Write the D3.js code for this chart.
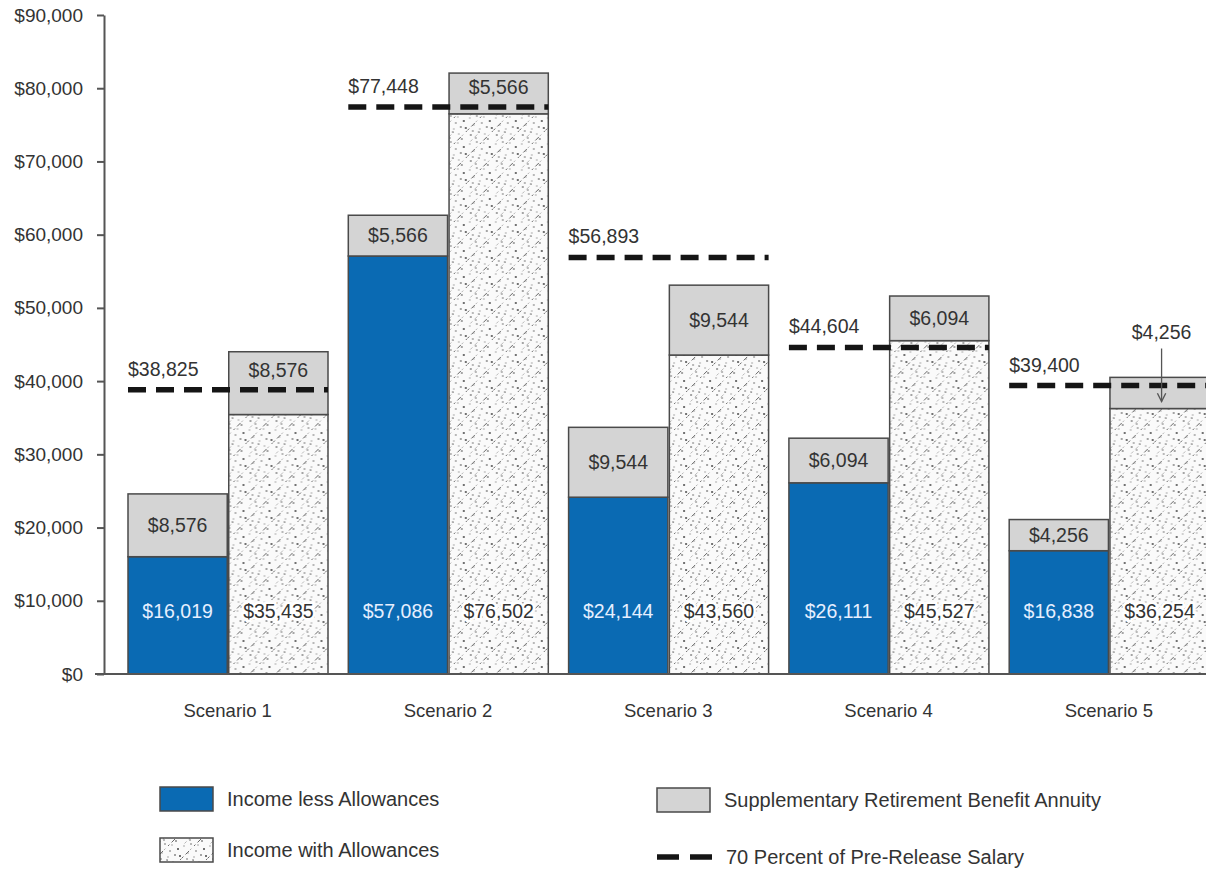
<!DOCTYPE html>
<html>
<head>
<meta charset="utf-8">
<script src="https://cdn.jsdelivr.net/npm/d3@7"></script>
<style>
  body { margin: 0; background: #fff; }
  text { font-family: "Liberation Sans", Arial, sans-serif; fill: #333; }
</style>
</head>
<body>
<div id="chart"></div>
<script>
// chart values
var scenarios = ["Scenario 1", "Scenario 2", "Scenario 3", "Scenario 4", "Scenario 5"];
var incomeLess = [16019, 57086, 24144, 26111, 16838];
var incomeWith = [35435, 76502, 43560, 45527, 36254];
var srba = [8576, 5566, 9544, 6094, 4256];
var seventyPct = [38825, 77448, 56893, 44604, 39400];
var yTicks = [0, 10000, 20000, 30000, 40000, 50000, 60000, 70000, 80000, 90000];

var width = 1206, height = 869;
var blue = "#0a6ab3", grey = "#d4d4d4", edge = "#4a4a4a";

var svg = d3.select("#chart").append("svg")
    .attr("width", width)
    .attr("height", height);

// speckled diagonal texture for "with allowances"
var defs = svg.append("defs");
var pat = defs.append("pattern")
    .attr("id", "speckle")
    .attr("patternUnits", "userSpaceOnUse")
    .attr("width", 26).attr("height", 26);
pat.append("rect").attr("width", 26).attr("height", 26).attr("fill", "#fafafa");
var strokes = [[0, 26, 26, 0], [-13, 13, 13, -13], [13, 39, 39, 13], [-6, 20, 20, -6]];
strokes.forEach(function(s, i) {
    pat.append("line")
        .attr("x1", s[0]).attr("y1", s[1]).attr("x2", s[2]).attr("y2", s[3])
        .attr("stroke", i % 2 ? "#888" : "#666")
        .attr("stroke-width", i === 3 ? 0.6 : 1)
        .attr("stroke-dasharray", i % 2 ? "4 2 1 5 3 3" : "2 3 5 2 1 4");
});
var dots = [[3, 5], [9, 12], [17, 4], [22, 17], [6, 21], [14, 19], [20, 9], [11, 2], [2, 14], [24, 24], [16, 13], [8, 8], [19, 23], [5, 1], [12, 25]];
dots.forEach(function(p, i) {
    pat.append("circle").attr("cx", p[0]).attr("cy", p[1])
        .attr("r", i % 3 === 0 ? 1 : 0.7)
        .attr("fill", i % 2 ? "#444" : "#888");
});

var y = d3.scaleLinear().domain([0, 90000]).range([674, 15]);
var x = d3.scaleBand().domain(scenarios).range([117.5, 1219]);
var sub = d3.scaleBand().domain(["less", "with"]).range([10.5, 210.5]).paddingInner(0.015);

var fmt = function(v) { return "$" + d3.format(",")(v); };

// y axis
var yAxis = svg.append("g")
    .attr("transform", "translate(104,0)")
    .call(d3.axisLeft(y).tickValues(yTicks).tickSize(7).tickSizeOuter(0).tickPadding(14).tickFormat(fmt));
yAxis.selectAll("path, line").attr("stroke", "#555").attr("stroke-width", 2);
yAxis.selectAll("text").style("font-size", "19px").attr("fill", "#333")
    .style("font-family", "'Liberation Sans', Arial, sans-serif");

// category axis
var xAxis = svg.append("g")
    .attr("transform", "translate(0,674)")
    .call(d3.axisBottom(x).tickSize(0).tickPadding(30));
xAxis.select(".domain").remove();
xAxis.selectAll("text").style("font-size", "18.5px").attr("fill", "#333")
    .style("font-family", "'Liberation Sans', Arial, sans-serif");

var rows = scenarios.map(function(s, i) {
    return { name: s, less: incomeLess[i], withA: incomeWith[i], srba: srba[i], line: seventyPct[i] };
});

var groups = svg.selectAll(".grp").data(rows).enter().append("g")
    .attr("class", "grp")
    .attr("transform", function(d) { return "translate(" + x(d.name) + ",0)"; });

// income less allowances
groups.append("rect")
    .attr("x", sub("less")).attr("width", sub.bandwidth())
    .attr("y", function(d) { return y(d.less); })
    .attr("height", function(d) { return y(0) - y(d.less); })
    .attr("fill", blue).attr("stroke", edge).attr("stroke-width", 1.5);
groups.append("rect")
    .attr("x", sub("less")).attr("width", sub.bandwidth())
    .attr("y", function(d) { return y(d.less + d.srba); })
    .attr("height", function(d) { return y(d.less) - y(d.less + d.srba); })
    .attr("fill", grey).attr("stroke", edge).attr("stroke-width", 1.5);

// income with allowances
groups.append("rect")
    .attr("x", sub("with")).attr("width", sub.bandwidth())
    .attr("y", function(d) { return y(d.withA); })
    .attr("height", function(d) { return y(0) - y(d.withA); })
    .attr("fill", "url(#speckle)").attr("stroke", edge).attr("stroke-width", 1.5);
groups.append("rect")
    .attr("x", sub("with")).attr("width", sub.bandwidth())
    .attr("y", function(d) { return y(d.withA + d.srba); })
    .attr("height", function(d) { return y(d.withA) - y(d.withA + d.srba); })
    .attr("fill", grey).attr("stroke", edge).attr("stroke-width", 1.5);

// value labels
var midLess = sub("less") + sub.bandwidth() / 2, midWith = sub("with") + sub.bandwidth() / 2;
groups.append("text")
    .attr("x", midLess).attr("y", y(0) - 63).attr("dy", "0.35em")
    .attr("text-anchor", "middle").style("font-size", "19.5px").style("fill", "#e6efff")
    .text(function(d) { return fmt(d.less); });
groups.append("text")
    .attr("x", midWith).attr("y", y(0) - 63).attr("dy", "0.35em")
    .attr("text-anchor", "middle").style("font-size", "19.5px")
    .attr("stroke", "#fff").attr("stroke-width", 5).attr("paint-order", "stroke")
    .text(function(d) { return fmt(d.withA); });
groups.append("text")
    .attr("x", midLess).attr("y", function(d) { return (y(d.less) + y(d.less + d.srba)) / 2; })
    .attr("dy", "0.35em").attr("text-anchor", "middle").style("font-size", "19.5px")
    .text(function(d) { return fmt(d.srba); });
groups.filter(function(d, i) { return i < 4; }).append("text")
    .attr("x", midWith)
    .attr("y", function(d) {
        var mid = (y(d.withA) + y(d.withA + d.srba)) / 2;
        return Math.abs(mid - y(d.line)) < 16 ? y(d.line) - 20 : mid;
    })
    .attr("dy", "0.35em").attr("text-anchor", "middle").style("font-size", "19.5px")
    .text(function(d) { return fmt(d.srba); });

// 70 percent lines
groups.append("line")
    .attr("x1", sub("less")).attr("x2", sub("with") + sub.bandwidth())
    .attr("y1", function(d) { return y(d.line); }).attr("y2", function(d) { return y(d.line); })
    .attr("stroke", "#151515").attr("stroke-width", 5.5).attr("stroke-dasharray", "18 10");
groups.append("text")
    .attr("x", sub("less")).attr("y", function(d) { return y(d.line) - 14; })
    .style("font-size", "19.5px")
    .text(function(d) { return fmt(d.line); });

// scenario 5 annotation with arrow
defs.append("marker").attr("id", "arrow")
    .attr("viewBox", "0 0 10 10").attr("refX", 9).attr("refY", 5)
    .attr("markerWidth", 8).attr("markerHeight", 8).attr("orient", "auto")
    .append("path").attr("d", "M1,1 L9,5 L1,9").attr("fill", "none").attr("stroke", "#555").attr("stroke-width", 1.3);
var last = rows[4];
var ax = x(last.name) + midWith + 2;
svg.append("line")
    .attr("x1", ax).attr("x2", ax)
    .attr("y1", y(last.line) - 37).attr("y2", y(last.withA) - 7)
    .attr("stroke", "#555").attr("stroke-width", 1.3).attr("marker-end", "url(#arrow)");
svg.append("text")
    .attr("x", ax).attr("y", y(last.line) - 47)
    .attr("text-anchor", "middle").style("font-size", "19.5px")
    .text(fmt(last.srba));

// baseline
svg.append("line")
    .attr("x1", 95).attr("x2", width)
    .attr("y1", y(0)).attr("y2", y(0))
    .attr("stroke", "#555").attr("stroke-width", 2);

// legend
var legend = svg.append("g");
var items = [
    { label: "Income less Allowances", fill: blue, x: 160, y: 787 },
    { label: "Income with Allowances", fill: "url(#speckle)", x: 160, y: 838 },
    { label: "Supplementary Retirement Benefit Annuity", fill: grey, x: 657, y: 788 }
];
items.forEach(function(it) {
    legend.append("rect").attr("x", it.x).attr("y", it.y).attr("width", 53).attr("height", 24)
        .attr("fill", it.fill).attr("stroke", edge).attr("stroke-width", 1.5);
    legend.append("text").attr("x", it.x + 67).attr("y", it.y + 12).attr("dy", "0.35em")
        .style("font-size", "20px").text(it.label);
});
legend.append("line").attr("x1", 657).attr("x2", 712).attr("y1", 857).attr("y2", 857)
    .attr("stroke", "#151515").attr("stroke-width", 5.5).attr("stroke-dasharray", "22 11");
legend.append("text").attr("x", 726).attr("y", 857).attr("dy", "0.35em")
    .style("font-size", "20px").text("70 Percent of Pre-Release Salary");
</script>
</body>
</html>
